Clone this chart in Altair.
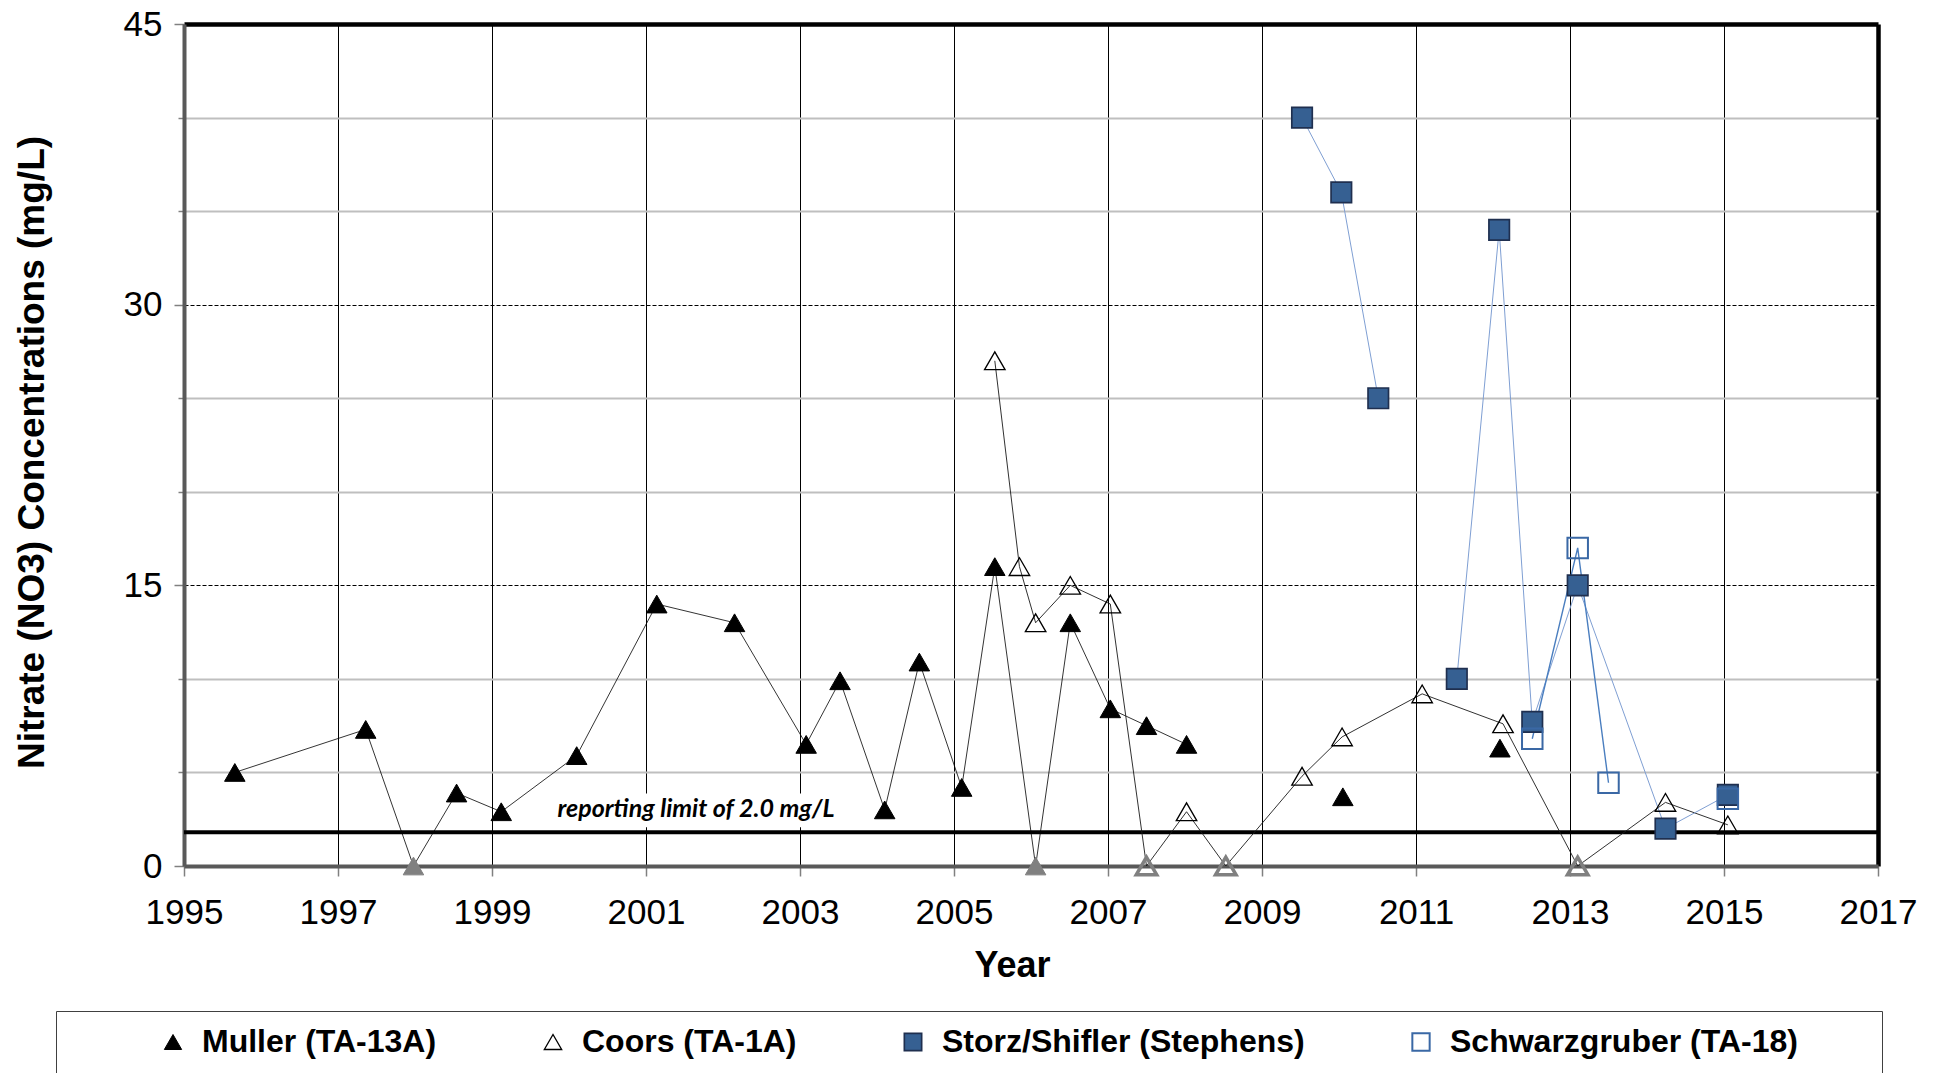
import altair as alt
import pandas as pd

SERIES = ["Muller (TA-13A)", "Coors (TA-1A)", "Storz/Shifler (Stephens)", "Schwarzgruber (TA-18)"]

# Muller (TA-13A)
muller_year = [1995.66, 1997.36, 1997.98, 1998.54, 1999.12, 2000.10, 2001.14, 2002.15, 2003.08,
               2003.52, 2004.10, 2004.55, 2005.10, 2005.53, 2006.06, 2006.51, 2007.03, 2007.50,
               2008.02, 2010.05, 2012.09]
muller_value = [5.0, 7.3, 0, 3.9, 2.9, 5.9, 14.0, 13.0, 6.5,
                9.9, 3.0, 10.9, 4.2, 16.0, 0, 13.0, 8.4, 7.5,
                6.5, 3.7, 6.3]
muller_seg = [1] * 19 + [2, 3]

# Coors (TA-1A)
coors_year = [2005.53, 2005.85, 2006.06, 2006.51, 2007.03, 2007.50, 2008.02, 2008.53, 2009.52,
              2010.04, 2011.08, 2012.13, 2013.10, 2014.24, 2015.05]
coors_value = [27.0, 16.0, 13.0, 15.0, 14.0, 0, 2.9, 0, 4.8,
               6.9, 9.2, 7.6, 0, 3.4, 2.2]
coors_seg = [1] * 15

# Storz/Shifler (Stephens)
storz_year = [2009.52, 2010.03, 2010.51, 2011.53, 2012.08, 2012.51, 2013.10, 2014.24, 2015.05]
storz_value = [40.0, 36.0, 25.0, 10.0, 34.0, 7.7, 15.0, 2.0, 3.8]
storz_seg = [1, 1, 1, 2, 2, 2, 2, 2, 2]

# Schwarzgruber (TA-18)
schwarz_year = [2012.51, 2013.10, 2013.50, 2015.05]
schwarz_value = [6.8, 17.0, 4.45, 3.6]
schwarz_seg = [1, 1, 1, 2]

reporting_limit = [1.8]
label_text = ["reporting limit of 2.0 mg/L"]
label_year = [2001.65]
label_value = [2.6]
label_box_year = [1999.81, 2003.49]
label_box_value = [2.07, 3.88]

year_ticks = list(range(1995, 2018, 2))
value_ticks = list(range(0, 46, 5))

# ---- styles (kept apart from data) ----
line_color = {SERIES[0]: "#000000", SERIES[1]: "#1a1a1a", SERIES[2]: "#7f9fd3", SERIES[3]: "#4a7ebf"}
line_width = {SERIES[0]: 0.8, SERIES[1]: 0.9, SERIES[2]: 1.0, SERIES[3]: 1.4}
nd_fill = {SERIES[0]: "#808080", SERIES[1]: "transparent"}
nd_stroke = {SERIES[0]: "#808080", SERIES[1]: "#808080"}
nd_width = {SERIES[0]: 1.0, SERIES[1]: 3.5}

rows = []
for name, ys, vs, ss in [
    (SERIES[0], muller_year, muller_value, muller_seg),
    (SERIES[1], coors_year, coors_value, coors_seg),
    (SERIES[2], storz_year, storz_value, storz_seg),
    (SERIES[3], schwarz_year, schwarz_value, schwarz_seg),
]:
    for y, v, s in zip(ys, vs, ss):
        rows.append({
            "series": name, "year": y, "value": v, "seg": f"{name}-{s}",
            "nd": v == 0,
            "lc": line_color[name], "lw": line_width[name],
            "ndf": nd_fill.get(name, "transparent"), "nds": nd_stroke.get(name, "#808080"),
            "ndw": nd_width.get(name, 1.0),
        })
df = pd.DataFrame(rows)
df_main = df[~df["nd"]]
df_nd = df[df["nd"]]

xscale = alt.Scale(domain=[1995, 2017], nice=False, zero=False)
yscale = alt.Scale(domain=[0, 45], nice=False, zero=True)

x_axis = alt.Axis(
    values=year_ticks, format="d", title="Year",
    labelFont="Liberation Sans", labelFontSize=35, labelColor="black", labelPadding=19,
    labelFlush=False, labelOverlap=False,
    tickColor="#808080", tickSize=10, tickWidth=1.5,
    domainColor="#595959", domainWidth=4,
    grid=True,
    gridColor="black",
    gridWidth={"condition": {"test": "datum.value == 2017", "value": 4.5}, "value": 1},
    titleFont="Liberation Sans", titleFontSize=36, titleFontWeight="bold", titleColor="black",
    titleX=828, titleY=99, titleAlign="center", titleBaseline="middle", titleAnchor="start",
)
y_axis = alt.Axis(
    values=value_ticks, format="d", title="Nitrate (NO3) Concentrations (mg/L)",
    labelExpr="datum.value % 15 === 0 ? datum.label : ''",
    labelFont="Liberation Sans", labelFontSize=35, labelColor="black", labelPadding=12,
    labelFlush=False, labelOverlap=False,
    tickColor="#808080", tickWidth=1.5,
    tickSize={"condition": {"test": "datum.value % 15 === 0", "value": 10}, "value": 6},
    domainColor="#595959", domainWidth=4,
    grid=True,
    gridColor={"condition": {"test": "datum.value % 15 === 0", "value": "black"}, "value": "#bfbfbf"},
    gridWidth={"condition": [{"test": "datum.value == 45", "value": 4.5},
                             {"test": "datum.value == 15 || datum.value == 30", "value": 1}],
               "value": 2},
    gridDash={"condition": {"test": "datum.value == 15 || datum.value == 30", "value": [4, 2]},
              "value": []},
    titleFont="Liberation Sans", titleFontSize=37, titleFontWeight="bold", titleColor="black",
    titleX=-152, titleY=428, titleAlign="center", titleBaseline="middle", titleAnchor="start",
)

pad = "\u2800" * 3
leg = alt.Legend(
    orient="none", legendX=-128, legendY=987, direction="horizontal",
    title="\u00a0", titleOrient="left", titlePadding=86, titleFontSize=2,
    labelFont="Liberation Sans", labelFontSize=32, labelFontWeight="bold", labelColor="black",
    labelOffset=13, columnPadding=100, padding=15, strokeColor="#404040",
    symbolSize=300, labelLimit=900,
    labelExpr="datum.label == 'Schwarzgruber (TA-18)' ? datum.label + '" + pad + "' : datum.label",
)

shape_scale = alt.Scale(domain=SERIES, range=["triangle-up", "triangle-up", "square", "square"])
fill_scale = alt.Scale(domain=SERIES, range=["#000000", "transparent", "#366092", "transparent"])
stroke_scale = alt.Scale(domain=SERIES, range=["#000000", "#000000", "#1f2f4f", "#3a68a5"])
sw_scale = alt.Scale(domain=SERIES, range=[1.0, 2.0, 1.2, 3.0])

X = alt.X("year:Q", scale=xscale, axis=x_axis)
Y = alt.Y("value:Q", scale=yscale, axis=y_axis)

box_df = pd.DataFrame({"x0": [label_box_year[0]], "x1": [label_box_year[1]],
                       "y0": [label_box_value[0]], "y1": [label_box_value[1]]})
box = alt.Chart(box_df).mark_rect(color="white").encode(
    x=alt.X("x0:Q", scale=xscale, axis=x_axis), x2="x1:Q",
    y=alt.Y("y0:Q", scale=yscale, axis=y_axis), y2="y1:Q",
)

rl = alt.Chart(pd.DataFrame({"value": reporting_limit})).mark_rule(color="black", strokeWidth=4).encode(
    y=Y
)

lbl = alt.Chart(pd.DataFrame({"year": label_year, "value": label_value, "t": label_text})).mark_text(
    font="Lato", fontStyle="italic", fontWeight="bold", fontSize=25, color="black",
    align="center", baseline="alphabetic"
).encode(x=X, y=Y, text="t:N")

lines = alt.Chart(df).mark_line().encode(
    x=X, y=Y, detail="seg:N",
    stroke=alt.Stroke("lc:N", scale=None),
    strokeWidth=alt.StrokeWidth("lw:Q", scale=None),
    order="year:Q",
)

pts = alt.Chart(df_main).mark_point(size=420, opacity=1).encode(
    x=X, y=Y,
    shape=alt.Shape("series:N", scale=shape_scale, legend=leg),
    fill=alt.Fill("series:N", scale=fill_scale, legend=leg),
    stroke=alt.Stroke("series:N", scale=stroke_scale, legend=leg),
    strokeWidth=alt.StrokeWidth("series:N", scale=sw_scale, legend=leg),
)

nd_pts = alt.Chart(df_nd).mark_point(size=420, shape="triangle-up", opacity=1).encode(
    x=X, y=Y,
    fill=alt.Fill("ndf:N", scale=None),
    stroke=alt.Stroke("nds:N", scale=None),
    strokeWidth=alt.StrokeWidth("ndw:Q", scale=None),
)

chart = alt.layer(box, rl, lbl, lines, pts, nd_pts).properties(
    width=1694, height=842,
    autosize=alt.AutoSizeParams(type="none"),
    padding={"left": 184, "top": 24, "right": 62, "bottom": 207},
    background="white",
).configure_view(stroke=None)

chart.save("out.html", embed_options={"renderer": "svg", "actions": False})
